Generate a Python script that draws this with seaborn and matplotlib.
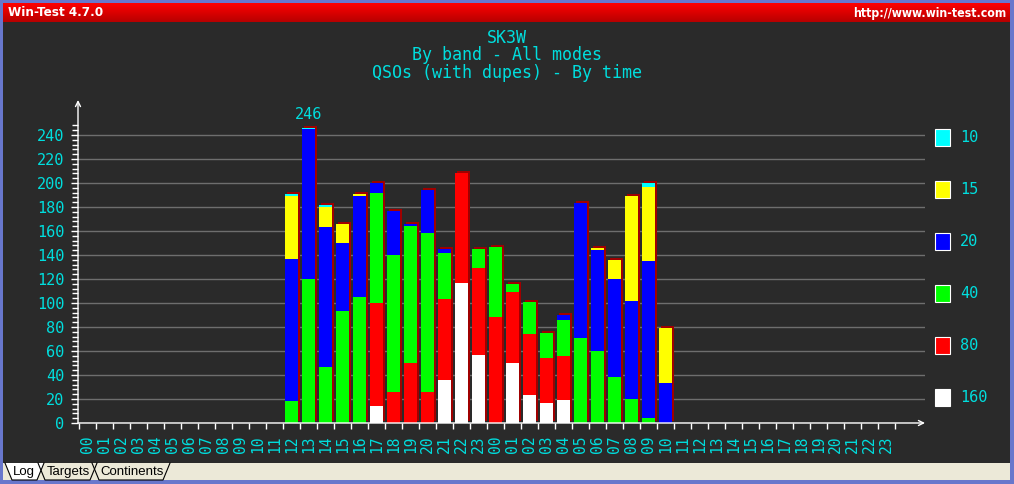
import matplotlib
matplotlib.use("Agg")
import matplotlib.pyplot as plt
import matplotlib.transforms as mtransforms
from matplotlib.patches import Rectangle, Polygon
import numpy as np
import pandas as pd
import seaborn as sns

# ---------------- data ----------------
slot_labels = [f"{h:02d}" for h in range(24)] * 2          # 48 hourly slots (two days)
bar_hours = ["12", "13", "14", "15", "16", "17", "18", "19", "20", "21", "22", "23",
             "00", "01", "02", "03", "04", "05", "06", "07", "08", "09", "10"]
bar_slots = list(range(12, 35))                              # slot index of each bar

bands = ["160", "80", "40", "20", "15", "10"]                # bottom -> top
q160 = [0, 0, 0, 0, 0, 14, 0, 0, 0, 36, 117, 57, 0, 50, 23, 17, 19, 0, 0, 0, 0, 0, 0]
q80 = [0, 0, 0, 0, 0, 86, 26, 50, 26, 67, 91, 72, 88, 59, 51, 37, 37, 0, 0, 0, 0, 0, 0]
q40 = [18, 120, 47, 93, 105, 92, 114, 114, 132, 39, 0, 16, 59, 7, 27, 21, 30, 71, 60, 38, 20, 4, 0]
q20 = [119, 125, 116, 57, 84, 8, 37, 2, 36, 3, 0, 0, 0, 0, 0, 0, 4, 112, 84, 82, 82, 131, 33]
q15 = [52, 0, 17, 16, 2, 0, 0, 0, 0, 0, 0, 0, 0, 0, 0, 0, 0, 0, 2, 16, 87, 62, 46]
q10 = [2, 1, 2, 0, 0, 0, 0, 0, 0, 0, 0, 0, 0, 0, 0, 0, 0, 0, 0, 0, 0, 3, 0]

band_colors = {"160": "#ffffff", "80": "#ff0000", "40": "#00ff00",
               "20": "#0000ff", "15": "#ffff00", "10": "#00ffff"}

title_lines = ["SK3W", "By band - All modes", "QSOs (with dupes) - By time"]

# ---------------- styles ----------------
BG = "#2a2a2a"
CYAN = "#00dede"
GRID = "#6e6e6e"
SHADOW = "#a00000"
BORDER = "#6877cc"
MONO = "DejaVu Sans Mono"

W, H = 1014, 484
fig = plt.figure(figsize=(W / 100, H / 100), dpi=100)

# window chrome (pixel coordinates)
bg = fig.add_axes([0, 0, 1, 1])
bg.set_xlim(0, W)
bg.set_ylim(H, 0)
bg.axis("off")
bg.add_patch(Rectangle((0, 0), W, H, color=BORDER, lw=0))
grad = np.linspace(0, 1, 50)[:, None]
top_c = np.array([1.0, 0.0, 0.0])
bot_c = np.array([0.72, 0.0, 0.0])
img = (top_c[None, None, :] * (1 - grad[:, :, None]) + bot_c[None, None, :] * grad[:, :, None])
bg.imshow(np.repeat(img, 2, axis=1), extent=(3, W - 4, 22, 3), aspect="auto", zorder=1)
bg.add_patch(Rectangle((3, 22), W - 7, 441, color=BG, lw=0, zorder=1))
bg.add_patch(Rectangle((3, 463), W - 7, 17, color="#ece9d8", lw=0, zorder=1))
bg.text(8, 13, "Win-Test 4.7.0", color="white", fontsize=9.6, fontweight="bold",
        fontstretch="condensed", family=["DejaVu Sans"], va="center", ha="left", zorder=2)
bg.text(1006, 13, "http://www.win-test.com", color="white", fontsize=8.8, fontweight="bold",
        fontstretch="condensed", family=["DejaVu Sans"], va="center", ha="right", zorder=2)

# tabs
bg.add_patch(Polygon([(5, 463), (12, 480), (37, 480), (44, 463)], closed=True,
                     facecolor="white", edgecolor="none", zorder=2))
tab_lines = [[(5, 463), (12, 480), (37, 480), (44, 463)],
             [(38, 463), (45, 480), (90, 480), (97, 463)],
             [(92, 463), (99, 480), (163, 480), (170, 463)]]
for pts in tab_lines:
    xs, ys = zip(*pts)
    bg.plot(xs, ys, color="black", lw=0.8, zorder=3)
for txt, x in [("Log", 24), ("Targets", 68), ("Continents", 132)]:
    bg.text(x, 472, txt, color="black", fontsize=9.5, family=["Liberation Sans", "DejaVu Sans"],
            ha="center", va="center", zorder=4)

# titles
for i, line in enumerate(title_lines):
    bg.text(507, 38 + 17.5 * i, line, color=CYAN, fontsize=12, family=MONO,
            ha="center", va="center", zorder=2)

# legend
for i, b in enumerate(reversed(bands)):
    yc = 137 + 52 * i
    bg.add_patch(Rectangle((935, yc - 8.5), 15, 17, facecolor=band_colors[b],
                           edgecolor="white", lw=0.8, zorder=2))
    bg.text(960, yc, b, color=CYAN, fontsize=11, family=MONO, ha="left", va="center", zorder=2)

# ---------------- main chart ----------------
ax = fig.add_axes([78 / W, (H - 423) / H, 847 / W, 323 / H])
ax.set_facecolor("none")

df = pd.DataFrame({"slot": bar_slots, "hour": bar_hours,
                   "160": q160, "80": q80, "40": q40, "20": q20, "15": q15, "10": q10})
cum = df[bands].cumsum(axis=1)
df["total"] = cum[bands[-1]]
order = list(range(len(slot_labels)))

# shadow bars (offset 2px right, 2px up)
n0 = len(ax.patches)
sns.barplot(x=df["slot"], y=df["total"], order=order, color=SHADOW, saturation=1,
            width=0.78, errorbar=None, linewidth=0, ax=ax, zorder=2)
offset = mtransforms.ScaledTranslation(2 / 100, 2 / 100, fig.dpi_scale_trans)
for p in ax.patches[n0:]:
    p.set_transform(ax.transData + offset)

# stacked bars: draw cumulative tops from top band down
for b in reversed(bands):
    sns.barplot(x=df["slot"], y=cum[b], order=order, color=band_colors[b], saturation=1,
                width=0.78, errorbar=None, linewidth=0, ax=ax, zorder=3)

# max label
imax = int(df["total"].idxmax())
ax.annotate(str(int(df["total"].max())), xy=(df["slot"][imax], df["total"][imax]),
            xytext=(0, 4), textcoords="offset points", ha="center", va="bottom",
            color=CYAN, fontsize=11, family=MONO, zorder=5)

ax.set_xlim(-0.57, -0.57 + 847 / 17)
ax.set_ylim(0, 269.2)
ax.set_xlabel("")
ax.set_ylabel("")
for s in ax.spines.values():
    s.set_visible(False)

ax.set_yticks(np.arange(0, 241, 20))
ax.set_yticks(np.arange(0, 249, 4), minor=True)
ax.set_yticklabels([str(v) for v in range(0, 241, 20)])
ax.tick_params(axis="y", which="major", length=5, width=1, color="white", pad=5,
               labelcolor=CYAN, labelsize=11)
ax.tick_params(axis="y", which="minor", length=4, width=1, color="white")
for t in ax.get_yticklabels():
    t.set_family(MONO)

ax.set_xticks(order)
ax.set_xticklabels(slot_labels, rotation=90)
ax.set_xticks(np.arange(-0.5, len(slot_labels), 1), minor=True)
ax.tick_params(axis="x", which="major", length=0, pad=9, labelcolor=CYAN, labelsize=10.5)
ax.tick_params(axis="x", which="minor", length=4, width=1, color="white")
for t in ax.get_xticklabels():
    t.set_family(MONO)

ax.grid(axis="y", which="major", color=GRID, lw=1)
ax.grid(axis="x", visible=False)
ax.set_axisbelow(True)

# axis lines with arrows
arrow = dict(arrowstyle="->", color="white", lw=1, shrinkA=0, shrinkB=0, mutation_scale=9)
ax.annotate("", xy=(1, 0), xytext=(0, 0), xycoords="axes fraction", arrowprops=arrow,
            annotation_clip=False, zorder=6)
ax.annotate("", xy=(0, 1), xytext=(0, 0), xycoords="axes fraction", arrowprops=arrow,
            annotation_clip=False, zorder=6)

fig.savefig("out.png", dpi=100)
